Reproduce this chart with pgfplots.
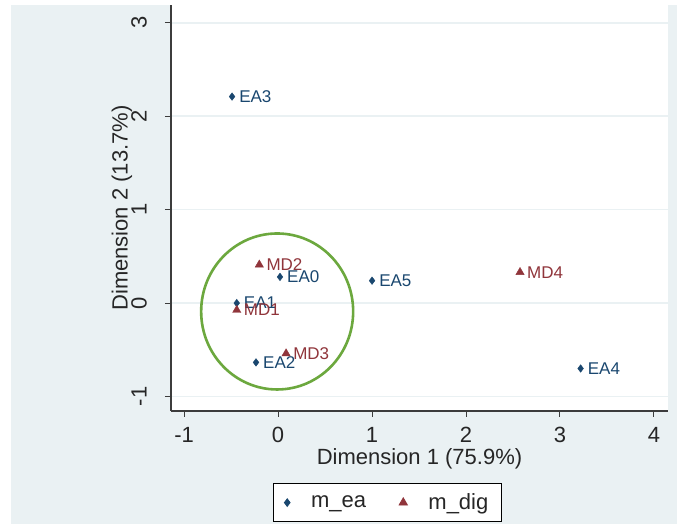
\documentclass[border=0pt]{standalone}
\usepackage{fontspec}
\setmainfont{Liberation Sans}
\usepackage{pgfplots}
\pgfplotsset{compat=1.18}
\usepackage{pgfplotstable}
\definecolor{bgc}{RGB}{234,241,243}
\definecolor{navy}{RGB}{26,71,111}
\definecolor{maroon}{RGB}{144,53,59}
\definecolor{circg}{RGB}{108,168,62}
\definecolor{axc}{RGB}{60,60,60}
\pgfplotstableread{
x y label
0.02 0.28 EA0
-0.44 0.00 EA1
-0.235 -0.635 EA2
-0.49 2.21 EA3
3.22 -0.70 EA4
1.00 0.24 EA5
}\eatable
\pgfplotstableread{
x y label
-0.44 -0.075 MD1
-0.20 0.41 MD2
0.085 -0.54 MD3
2.575 0.33 MD4
}\mdtable
\begin{document}
\begin{tikzpicture}
\useasboundingbox (-171pt,-113pt) rectangle (507pt,411pt);
\fill[bgc] (-160pt,-113pt) rectangle (506pt,406pt);
\begin{axis}[
  at={(0pt,0pt)}, anchor=south west,
  scale only axis, width=497pt, height=406pt,
  xmin=-1.14, xmax=4.15, ymin=-1.155, ymax=3.19,
  axis background/.style={fill=white},
  axis lines*=left, axis line style={-, axc, line width=1.2pt},
  xtick={-1,0,1,2,3,4}, ytick={-1,0,1,2,3},
  xticklabels={-1,0,1,2,3,4}, yticklabels={-1,0,1,2,3},
  tick align=outside, major tick length=6pt,
  tick style={axc, line width=1pt},
  ymajorgrids, major grid style={bgc, line width=1.5pt},
  ticklabel style={font=\fontsize{22}{24}\selectfont, text=black!85},
  xticklabel style={anchor=center, yshift=-18pt},
  yticklabel style={rotate=90, anchor=center, yshift=26pt},
  xlabel={Dimension 1 (75.9\%)}, ylabel={Dimension 2 (13.7\%)},
  every axis x label/.style={at={(axis description cs:0.5,-0.1175)}, anchor=center,
    font=\fontsize{22}{24}\selectfont, text=black!85},
  every axis y label/.style={at={(axis description cs:-0.0986,0.5)}, anchor=center, rotate=90,
    font=\fontsize{22}{24}\selectfont, text=black!85},
  legend style={at={(axis description cs:0.2052,-0.1773)}, anchor=north west,
    draw=black, line width=0.8pt, fill=white, font=\fontsize{22}{24}\selectfont, text=black!85,
    legend columns=2, inner xsep=11pt, inner ysep=8.5pt,
    /tikz/every odd column/.append style={column sep=19pt},
    /tikz/every even column/.append style={column sep=31pt}},
  legend cell align=left,
  clip=false,
]
\addplot[only marks, mark=diamond*, mark size=3.8pt, navy,
  nodes near coords, point meta=explicit symbolic,
  every node near coord/.append style={anchor=west, inner sep=0pt, xshift=7pt,
    font=\fontsize{17}{17}\selectfont, text=navy}]
  table[x=x, y=y, meta=label] {\eatable};
\addlegendentry{m\_ea}
\addplot[only marks, mark=triangle*, mark size=4.8pt, maroon,
  nodes near coords, point meta=explicit symbolic,
  every node near coord/.append style={anchor=west, inner sep=0pt, xshift=7pt,
    font=\fontsize{17}{17}\selectfont, text=maroon}]
  table[x=x, y=y, meta=label] {\mdtable};
\addlegendentry{m\_dig}
\draw[circg, line width=2.6pt] (axis cs:-0.01,-0.09) ellipse [x radius=76pt, y radius=78pt];
\end{axis}
\end{tikzpicture}
\end{document}
